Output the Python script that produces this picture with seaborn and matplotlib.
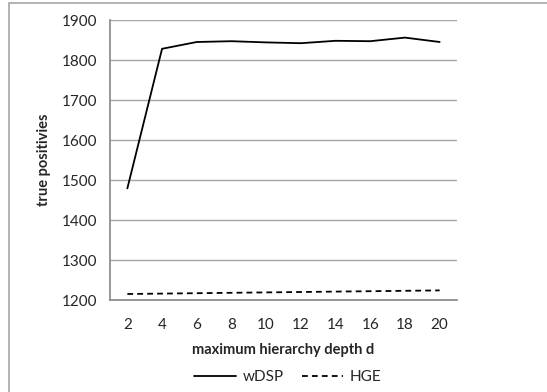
import matplotlib
matplotlib.use("Agg")
import matplotlib.pyplot as plt
import pandas as pd
import seaborn as sns
from matplotlib.patches import Rectangle
from matplotlib.ticker import MultipleLocator, FixedLocator

depth = [2, 4, 6, 8, 10, 12, 14, 16, 18, 20]
wdsp = [1479, 1828, 1845, 1847, 1844, 1842, 1848, 1847, 1856, 1845]
hge = [1215, 1216, 1217, 1218, 1219, 1220, 1221, 1222, 1223, 1224]

df = pd.DataFrame({
    "d": depth * 2,
    "tp": wdsp + hge,
    "method": ["wDSP"] * len(depth) + ["HGE"] * len(depth),
})

sns.set_style("white")
plt.rcParams["font.family"] = ["Lato", "DejaVu Sans"]

dash = (3.2, 2.3)

fig = plt.figure(figsize=(5.47, 3.92), dpi=100)
ax = fig.add_axes([110 / 547, 1 - 300 / 392, 347 / 547, 280 / 392])

sns.lineplot(data=df, x="d", y="tp", style="method", ax=ax,
             color="black", linewidth=1.3,
             dashes={"wDSP": "", "HGE": dash}, legend=False)

ax.set_xlim(1, 21)
ax.set_ylim(1200, 1900)
ax.yaxis.set_major_locator(MultipleLocator(100))
ax.xaxis.set_major_locator(FixedLocator(depth))
ax.xaxis.set_minor_locator(FixedLocator(list(range(1, 22, 2))))
ax.tick_params(axis="x", which="major", length=0, pad=13, labelsize=11)
ax.tick_params(axis="x", which="minor", length=4, width=1, color="#868686", direction="out")
ax.tick_params(axis="y", length=5, width=1, color="#868686", direction="out", labelsize=11, pad=4)

ax.grid(axis="y", color="#a6a6a6", linewidth=1)
ax.set_axisbelow(True)
for side in ["top", "right"]:
    ax.spines[side].set_visible(False)
for side in ["left", "bottom"]:
    ax.spines[side].set_color("#868686")
    ax.spines[side].set_linewidth(1.2)

ax.set_xlabel("maximum hierarchy depth d", fontweight="bold", fontsize=10.5, labelpad=8)
ax.set_ylabel("true positivies", fontweight="bold", fontsize=10.5, labelpad=8)

handles = [
    plt.Line2D([], [], color="black", linewidth=1.3, linestyle="-"),
    plt.Line2D([], [], color="black", linewidth=1.3, linestyle=(0, dash)),
]
fig.legend(handles, ["wDSP", "HGE"], loc="center", bbox_to_anchor=(288 / 547, 1 - 377 / 392),
           ncol=2, frameon=False, fontsize=11, handlelength=2.7, columnspacing=1.2,
           handletextpad=0.45)

fig.patches.append(Rectangle((9 / 547, -0.05), 1.1, (1 - 3 / 392) + 0.05,
                             transform=fig.transFigure, fill=False,
                             edgecolor="#a6a6a6", linewidth=1.2))

fig.savefig("out.png", dpi=100)
